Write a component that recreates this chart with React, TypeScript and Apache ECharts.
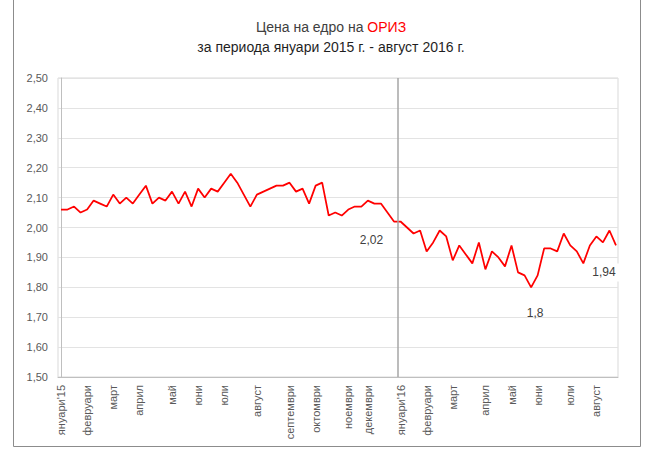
import React, { useEffect, useRef } from "react";
import * as echarts from "echarts";

// Weekly wholesale price of rice (January 2015 – August 2016)
const prices: number[] = [
  2.06, 2.06, 2.07, 2.05, 2.06, 2.09, 2.08, 2.07, 2.11, 2.08,
  2.10, 2.08, 2.11, 2.14, 2.08, 2.10, 2.09, 2.12, 2.08, 2.12,
  2.07, 2.13, 2.10, 2.13, 2.12, 2.15, 2.18, 2.15, 2.11, 2.07,
  2.11, 2.12, 2.13, 2.14, 2.14, 2.15, 2.12, 2.13, 2.08, 2.14,
  2.15, 2.04, 2.05, 2.04, 2.06, 2.07, 2.07, 2.09, 2.08, 2.08,
  2.05, 2.02, 2.02, 2.00, 1.98, 1.99, 1.92, 1.95, 1.99, 1.97,
  1.89, 1.94, 1.91, 1.88, 1.95, 1.86, 1.92, 1.90, 1.87, 1.94,
  1.85, 1.84, 1.80, 1.84, 1.93, 1.93, 1.92, 1.98, 1.94, 1.92,
  1.88, 1.94, 1.97, 1.95, 1.99, 1.94,
];

// Month labels and the week index where each is placed
const monthLabels: string[] = [
  "януари'15", "февруари", "март", "април", "май", "юни", "юли", "август",
  "септември", "октомври", "ноември", "декември", "януари'16", "февруари",
  "март", "април", "май", "юни", "юли", "август",
];
const monthIndex: number[] = [
  0, 4, 8, 12, 17, 21, 25, 30, 35, 39, 44, 47, 52, 56, 60, 65, 69, 73, 78, 82,
];

// Highlighted points
const yearStartIndex = 52;
const annotatedIndex: number[] = [52, 72, 85];

const FONT = "'Liberation Sans', Arial, sans-serif";

const fmtComma = (v: number) => String(v).replace(".", ",");

export default function App() {
  const ref = useRef<HTMLDivElement>(null);

  useEffect(() => {
    if (!ref.current) return;
    const chart = echarts.init(ref.current, undefined, { renderer: "svg" });

    const labelMap: Record<number, string> = {};
    monthIndex.forEach((idx, k) => (labelMap[idx] = monthLabels[k]));

    const offsets: Record<number, number[]> = {
      52: [-29, 18],
      72: [4, 26],
      85: [-12, 27],
    };

    const option: any = {
      animation: false,
      grid: {
        left: 58,
        right: 35,
        top: 78,
        bottom: 80,
        show: true,
        borderColor: "#d9d9d9",
        borderWidth: 1,
      },
      graphic: [
        {
          type: "rect",
          silent: true,
          shape: { x: 13.5, y: -2, width: 627, height: 448.5 },
          style: { fill: "none", stroke: "#8c8c8c", lineWidth: 1 },
        },
        {
          type: "text",
          x: 331,
          y: 27,
          style: {
            text: "{a|Цена на едро на }{b|ОРИЗ}",
            align: "center",
            verticalAlign: "middle",
            rich: {
              a: { fontFamily: FONT, fontSize: 14, fill: "#404040" },
              b: { fontFamily: FONT, fontSize: 14, fill: "#ff0000" },
            },
          },
        },
        {
          type: "text",
          x: 331,
          y: 47,
          style: {
            text: "за периода януари 2015 г. - август 2016 г.",
            align: "center",
            verticalAlign: "middle",
            fontFamily: FONT,
            fontSize: 14,
            fill: "#1f1f1f",
          },
        },
      ],
      xAxis: {
        type: "value",
        min: -0.46,
        max: 85.31,
        axisLine: { show: true, lineStyle: { color: "#bfbfbf" } },
        axisTick: { show: false },
        splitLine: { show: false },
        axisLabel: {
          customValues: monthIndex,
          formatter: (v: number) => labelMap[Math.round(v)] ?? "",
          rotate: 90,
          margin: 8,
          color: "#595959",
          fontSize: 11,
          fontFamily: FONT,
        },
      },
      yAxis: {
        type: "value",
        min: 1.5,
        max: 2.5,
        interval: 0.1,
        axisLine: { show: true, lineStyle: { color: "#bfbfbf" } },
        axisTick: { show: false },
        splitLine: { lineStyle: { color: "#e3e3e3", width: 1 } },
        axisLabel: {
          formatter: (v: number) => v.toFixed(2).replace(".", ","),
          color: "#595959",
          fontSize: 11,
          fontFamily: FONT,
          margin: 10,
        },
      },
      series: [
        {
          type: "line",
          data: prices.map((v, i) => [i, v]),
          showSymbol: false,
          symbol: "none",
          lineStyle: { color: "#ff0000", width: 1.75 },
          markLine: {
            silent: true,
            symbol: ["none", "none"],
            label: { show: false },
            lineStyle: { color: "#a6a6a6", width: 1.5, type: "solid" },
            data: [{ xAxis: yearStartIndex - 0.5 }],
          },
          markPoint: {
            silent: true,
            symbol: "circle",
            symbolSize: 1,
            itemStyle: { color: "rgba(0,0,0,0)" },
            label: {
              show: true,
              position: "inside",
              formatter: "{b}",
              color: "#404040",
              fontSize: 12,
              fontFamily: FONT,
            },
            data: annotatedIndex.map((i) => ({
              coord: [i, prices[i]],
              name: fmtComma(prices[i]),
              label: {
                offset: offsets[i],
                backgroundColor: i === 85 ? "#ffffff" : undefined,
                padding: i === 85 ? [3, 6] : 0,
              },
            })),
          },
        },
      ],
    };

    chart.setOption(option);
    return () => chart.dispose();
  }, []);

  return (
    <div
      ref={ref}
      style={{ position: "fixed", left: 0, top: 0, width: 653, height: 457, background: "#fff" }}
    />
  );
}
